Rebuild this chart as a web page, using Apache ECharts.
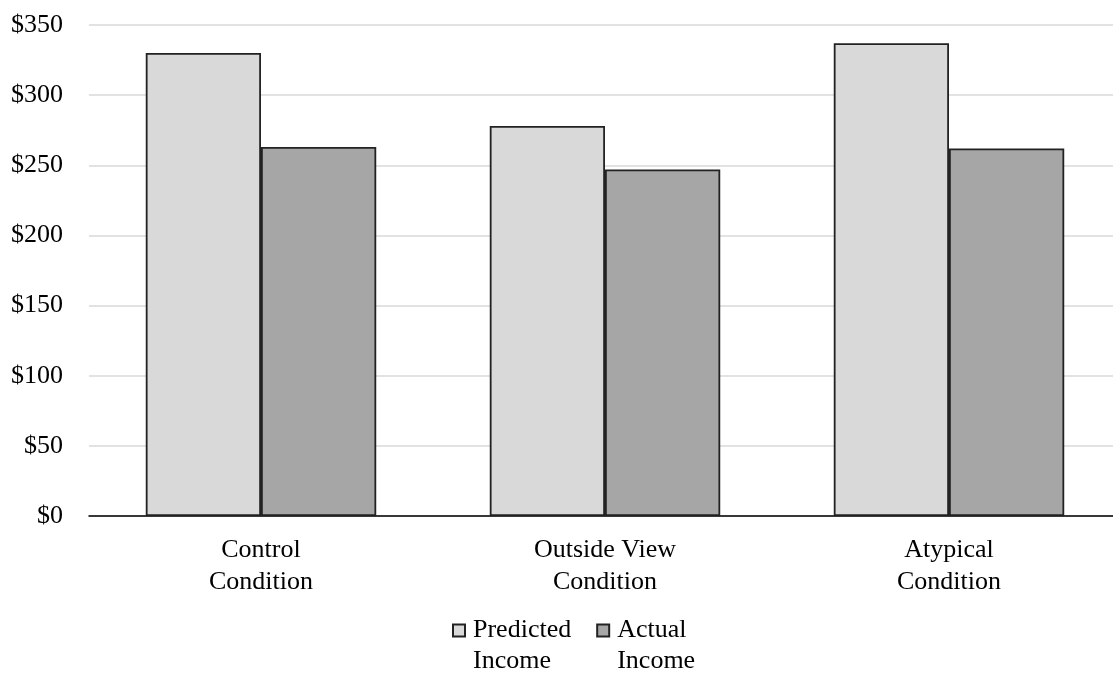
<!DOCTYPE html>
<html><head><meta charset="utf-8">
<script src="https://cdn.jsdelivr.net/npm/echarts@6/dist/echarts.min.js"></script>
<style>html,body{margin:0;padding:0;background:#fff}#c{width:1113px;height:673px}</style>
</head><body><div id="c"></div>
<script>
const categories = ["Control\nCondition", "Outside View\nCondition", "Atypical\nCondition"];
const predictedIncome = [330, 278, 337];
const actualIncome = [263, 247, 262];
const seriesNames = ["Predicted\nIncome", "Actual\nIncome"];
const yTicks = { min: 0, max: 350, interval: 50 };

const font = "Liberation Serif";
const chart = echarts.init(document.getElementById('c'));
chart.setOption({
  animation: false,
  backgroundColor: '#fff',
  textStyle: { fontFamily: font },
  grid: { left: 89, width: 1032, top: 25, bottom: 157, outerBoundsMode: 'none', containLabel: false },
  legend: {
    top: 584, left: 452, padding: 0,
    itemWidth: 12, itemHeight: 12, itemGap: 25,
    icon: 'rect',
    formatter: name => ' \n' + name,
    textStyle: { fontFamily: font, fontSize: 26, color: '#000', lineHeight: 31, padding: [0, 0, 0, 3] },
    data: seriesNames
  },
  xAxis: {
    type: 'category', data: categories,
    axisLine: { lineStyle: { color: '#000', width: 1.5 } },
    axisTick: { show: false },
    axisLabel: { fontFamily: font, fontSize: 26, color: '#000', lineHeight: 32, margin: 18 }
  },
  yAxis: {
    type: 'value', min: yTicks.min, max: yTicks.max, interval: yTicks.interval,
    axisLine: { show: false }, axisTick: { show: false },
    splitLine: { lineStyle: { color: '#d9d9d9', width: 1.5 } },
    axisLabel: { fontFamily: font, fontSize: 26, color: '#000', margin: 26, formatter: v => '$' + v }
  },
  series: [
    { name: seriesNames[0], type: 'bar', data: predictedIncome, barGap: '0%', barCategoryGap: '33%',
      itemStyle: { color: '#d9d9d9', borderColor: '#222', borderWidth: 1.8 } },
    { name: seriesNames[1], type: 'bar', data: actualIncome,
      itemStyle: { color: '#a6a6a6', borderColor: '#222', borderWidth: 1.8 } }
  ]
});
</script></body></html>
